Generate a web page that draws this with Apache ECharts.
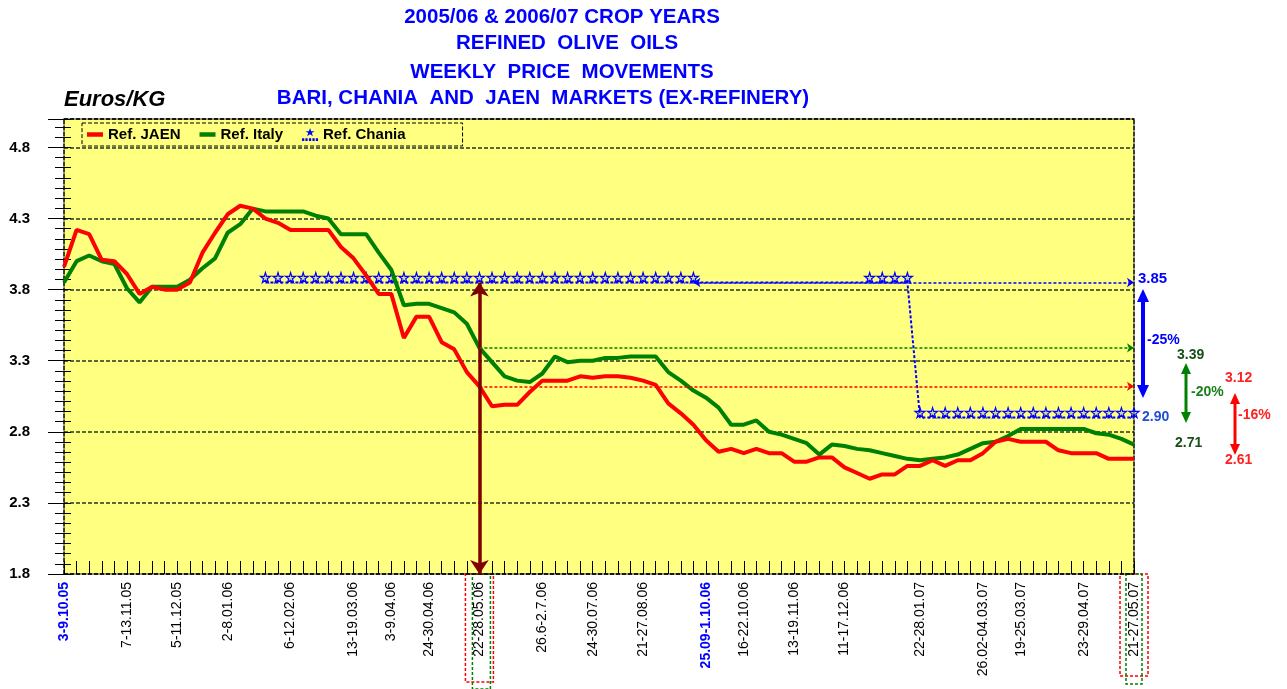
<!DOCTYPE html>
<html>
<head>
<meta charset="utf-8">
<script src="https://cdn.jsdelivr.net/npm/echarts@6/dist/echarts.min.js"></script>
<style>
html, body { margin: 0; padding: 0; background: #fff; }
#main { width: 1287px; height: 689px; }
</style>
</head>
<body>
<div id="main"></div>
<script>
// weekly categories, 3-9.10.05 ... 21-27.05.07
var weeks = [
	'3-9.10.05', '10-16.10.05', '17-23.10.05', '24-30.10.05', '31.10-6.11.05', '7-13.11.05',
	'14-20.11.05', '21-27.11.05', '28.11-4.12.05', '5-11.12.05', '12-18.12.05', '19-25.12.05',
	'26.12-1.01.06', '2-8.01.06', '9-15.01.06', '16-22.01.06', '23-29.01.06', '30.01-5.02.06',
	'6-12.02.06', '13-19.02.06', '20-26.02.06', '27.02-5.03.06', '6-12.03.06', '13-19.03.06',
	'20-26.03.06', '27.03-2.04.06', '3-9.04.06', '10-16.04.06', '17-23.04.06', '24-30.04.06',
	'1-7.05.06', '8-14.05.06', '15-21.05.06', '22-28.05.06', '29.05-4.06.06', '5-11.06.06',
	'12-18.06.06', '19-25.06.06', '26.6-2.7.06', '3-9.07.06', '10-16.07.06', '17-23.07.06',
	'24-30.07.06', '31.07-6.08.06', '7-13.08.06', '14-20.08.06', '21-27.08.06', '28.08-3.09.06',
	'4-10.09.06', '11-17.09.06', '18-24.09.06', '25.09-1.10.06', '2-8.10.06', '9-15.10.06',
	'16-22.10.06', '23-29.10.06', '30.10-5.11.06', '6-12.11.06', '13-19.11.06', '20-26.11.06',
	'27.11-3.12.06', '4-10.12.06', '11-17.12.06', '18-24.12.06', '25-31.12.06', '1-7.01.07',
	'8-14.01.07', '15-21.01.07', '22-28.01.07', '29.01-4.02.07', '5-11.02.07', '12-18.02.07',
	'19-25.02.07', '26.02-04.03.07', '5-11.03.07', '12-18.03.07', '19-25.03.07', '26.03-1.04.07',
	'2-8.04.07', '9-15.04.07', '16-22.04.07', '23-29.04.07', '30.04-6.05.07', '7-13.05.07',
	'14-20.05.07', '21-27.05.07'
];
// weeks that carry a label on the axis
var labelWeeks = [0, 5, 9, 13, 18, 23, 26, 29, 33, 38, 42, 46, 51, 54, 58, 62, 68, 73, 76, 81, 85];
// first week of each crop year (blue labels)
var cropYearStart = [0, 51];

var jaen = [
	3.96, 4.22, 4.19, 4.01, 4.00, 3.91, 3.77, 3.82, 3.80, 3.80,
	3.85, 4.06, 4.20, 4.33, 4.39, 4.37, 4.30, 4.27, 4.22, 4.22,
	4.22, 4.22, 4.10, 4.02, 3.90, 3.77, 3.77, 3.46, 3.61, 3.61,
	3.43, 3.38, 3.22, 3.12, 2.98, 2.99, 2.99, 3.08, 3.16, 3.16,
	3.16, 3.19, 3.18, 3.19, 3.19, 3.18, 3.16, 3.13, 3.00, 2.93,
	2.85, 2.74, 2.66, 2.68, 2.65, 2.68, 2.65, 2.65, 2.59, 2.59,
	2.62, 2.62, 2.55, 2.51, 2.47, 2.50, 2.50, 2.56, 2.56, 2.60,
	2.56, 2.60, 2.60, 2.65, 2.73, 2.75, 2.73, 2.73, 2.73, 2.67,
	2.65, 2.65, 2.65, 2.61, 2.61, 2.61
];
var italy = [
	3.85, 4.00, 4.04, 4.00, 3.98, 3.81, 3.71, 3.82, 3.82, 3.82,
	3.87, 3.95, 4.02, 4.20, 4.26, 4.37, 4.35, 4.35, 4.35, 4.35,
	4.32, 4.30, 4.19, 4.19, 4.19, 4.06, 3.94, 3.69, 3.70, 3.70,
	3.67, 3.64, 3.56, 3.39, 3.29, 3.19, 3.16, 3.15, 3.21, 3.33,
	3.29, 3.30, 3.30, 3.32, 3.32, 3.33, 3.33, 3.33, 3.22, 3.16,
	3.09, 3.04, 2.97, 2.85, 2.85, 2.88, 2.80, 2.78, 2.75, 2.72,
	2.64, 2.71, 2.70, 2.68, 2.67, 2.65, 2.63, 2.61, 2.60, 2.61,
	2.62, 2.64, 2.68, 2.72, 2.73, 2.77, 2.82, 2.82, 2.82, 2.82,
	2.82, 2.82, 2.79, 2.78, 2.75, 2.71
];
var chania = [
	null, null, null, null, null, null, null, null, null, null,
	null, null, null, null, null, null, 3.85, 3.85, 3.85, 3.85,
	3.85, 3.85, 3.85, 3.85, 3.85, 3.85, 3.85, 3.85, 3.85, 3.85,
	3.85, 3.85, 3.85, 3.85, 3.85, 3.85, 3.85, 3.85, 3.85, 3.85,
	3.85, 3.85, 3.85, 3.85, 3.85, 3.85, 3.85, 3.85, 3.85, 3.85,
	3.85, null, null, null, null, null, null, null, null, null,
	null, null, null, null, 3.85, 3.85, 3.85, 3.85, 2.90, 2.90,
	2.90, 2.90, 2.90, 2.90, 2.90, 2.90, 2.90, 2.90, 2.90, 2.90,
	2.90, 2.90, 2.90, 2.90, 2.90, 2.90
];

// comparison points
var refWeek = 33, lastWeek = 85, chaniaRefWeek = 50;
var refJaen = 3.12, refItaly = 3.39, refChania = 3.85;

var yMin = 1.8, yMax = 5.0, yStep = 0.5, yFine = 0.5 / 7;

var font = 'Arial, "Liberation Sans", sans-serif';
var dash = [4, 2];
var starPath = 'path://M50,0 L61,35 L98,35 L68,57 L79,91 L50,70 L21,91 L32,57 L2,35 L39,35 Z';
var barIcon = 'path://M0,0 L100,0 L100,28 L0,28 Z';
var starLineIcon = 'path://M50,0 L57,20 L78,20 L61,32 L68,52 L50,40 L32,52 L39,32 L22,20 L43,20 Z' +
	'M0,64 L14,64 L14,82 L0,82 Z M21,64 L35,64 L35,82 L21,82 Z M43,64 L57,64 L57,82 L43,82 Z' +
	'M65,64 L79,64 L79,82 L65,82 Z M86,64 L100,64 L100,82 L86,82 Z';

function titleLine(text, x, y) {
	return {
		text: text, left: x, top: y, textAlign: 'center', padding: 0,
		textStyle: { color: '#0000ff', fontSize: 20.5, fontWeight: 'bold', fontFamily: font }
	};
}

var myChart = echarts.init(document.getElementById('main'));

option = {
	backgroundColor: '#fff',
	animation: false,
	textStyle: { fontFamily: font },
	title: [
		titleLine('2005/06 & 2006/07 CROP YEARS', 562, 7),
		titleLine('REFINED  OLIVE  OILS', 567, 33),
		titleLine('WEEKLY  PRICE  MOVEMENTS', 562, 62),
		titleLine('BARI, CHANIA  AND  JAEN  MARKETS (EX-REFINERY)', 543, 88)
	],
	legend: {
		left: 82,
		top: 123,
		padding: [4, 57, 4, 5],
		itemGap: 19,
		itemWidth: 16,
		itemHeight: 14,
		backgroundColor: '#ffff80',
		borderColor: '#000',
		borderWidth: 1,
		borderType: 'dashed',
		textStyle: { fontSize: 15, fontWeight: 'bold', color: '#000', fontFamily: font },
		data: [
			{ name: 'Ref. JAEN', icon: barIcon },
			{ name: 'Ref. Italy', icon: barIcon },
			{ name: 'Ref. Chania', icon: starLineIcon, itemStyle: { color: '#0000ff', borderWidth: 0 } }
		]
	},
	grid: {
		left: 64,
		right: 153,
		top: 119,
		bottom: 115,
		show: true,
		backgroundColor: '#ffff80',
		borderWidth: 0
	},
	xAxis: [{
		type: 'category',
		data: weeks,
		boundaryGap: false,
		position: 'bottom',
		axisLine: { lineStyle: { color: '#000', type: dash, width: 1.5 } },
		axisTick: { inside: true, length: 13, interval: 0, lineStyle: { color: '#000' } },
		axisLabel: {
			interval: function (i) { return labelWeeks.indexOf(i) >= 0; },
			rotate: 90,
			margin: 8,
			fontSize: 14,
			color: '#000',
			fontFamily: font,
			formatter: function (v, i) {
				return cropYearStart.indexOf(i) >= 0 ? '{b|' + v + '}' : v;
			},
			rich: { b: { color: '#0000ff', fontWeight: 'bold', fontSize: 14, fontFamily: font } }
		},
		splitLine: { show: false }
	}, {
		type: 'category',
		data: weeks,
		boundaryGap: false,
		position: 'top',
		axisLine: { lineStyle: { color: '#000', type: dash, width: 1.5 } },
		axisTick: { show: false },
		axisLabel: { show: false }
	}],
	yAxis: [{
		type: 'value',
		min: yMin, max: yMax, interval: yStep,
		position: 'left',
		name: 'Euros/KG',
		nameLocation: 'end',
		nameGap: 19,
		nameTextStyle: {
			align: 'left', verticalAlign: 'middle', fontSize: 22, fontWeight: 'bold',
			fontStyle: 'italic', color: '#000', fontFamily: font
		},
		axisLine: { show: true, lineStyle: { color: '#000', type: dash, width: 1.5 } },
		axisTick: { show: true, length: 16, lineStyle: { color: '#000' } },
		axisLabel: {
			margin: 34, fontSize: 15, fontWeight: 'bold', color: '#000', fontFamily: font,
			formatter: function (v) { return v > 4.85 ? '' : v.toFixed(1); }
		},
		splitLine: { lineStyle: { color: '#1e3a1e', type: dash, width: 1.5 } }
	}, {
		// small ticks inside
		type: 'value',
		min: yMin, max: yMax, interval: yFine,
		position: 'left',
		axisLine: { show: false },
		axisTick: { show: true, inside: true, length: 7, lineStyle: { color: '#000' } },
		axisLabel: { show: false },
		splitLine: { show: false }
	}, {
		// small ticks outside
		type: 'value',
		min: yMin, max: yMax, interval: yFine,
		position: 'left',
		axisLine: { show: false },
		axisTick: { show: true, length: 9, lineStyle: { color: '#000' } },
		axisLabel: { show: false },
		splitLine: { show: false }
	}, {
		type: 'value',
		min: yMin, max: yMax, interval: yStep,
		position: 'right',
		axisLine: { show: true, lineStyle: { color: '#000', type: dash, width: 1.5 } },
		axisTick: { show: false },
		axisLabel: { show: false },
		splitLine: { show: false }
	}],
	series: [{
		name: 'Ref. JAEN',
		type: 'line',
		data: jaen,
		symbol: 'none',
		z: 4,
		lineStyle: { color: '#ff0000', width: 4 },
		itemStyle: { color: '#ff0000' },
		markLine: {
			silent: true,
			label: { show: false },
			symbol: ['none', 'arrow'],
			symbolSize: 7,
			lineStyle: { color: '#ff0000', type: [3, 2], width: 1.5 },
			data: [
				[{ coord: [refWeek, refJaen] }, { coord: [lastWeek, refJaen] }],
				[
					{ coord: [refWeek, yMin], symbol: 'arrow', symbolSize: 14, lineStyle: { color: '#800000', type: 'solid', width: 3.5 } },
					{ coord: [refWeek, refChania], symbol: 'arrow', symbolSize: 14, lineStyle: { color: '#800000', type: 'solid', width: 3.5 } }
				]
			]
		}
	}, {
		name: 'Ref. Italy',
		type: 'line',
		data: italy,
		symbol: 'none',
		z: 3,
		lineStyle: { color: '#008000', width: 4 },
		itemStyle: { color: '#008000' },
		markLine: {
			silent: true,
			label: { show: false },
			symbol: ['none', 'arrow'],
			symbolSize: 7,
			lineStyle: { color: '#008000', type: [3, 2], width: 1.5 },
			data: [[{ coord: [refWeek, refItaly] }, { coord: [lastWeek, refItaly] }]]
		}
	}, {
		name: 'Ref. Chania',
		type: 'line',
		data: chania,
		connectNulls: true,
		showAllSymbol: true,
		symbol: starPath,
		symbolSize: 10,
		symbolOffset: [0, -5],
		z: 2,
		lineStyle: { color: '#0000ff', width: 2, type: [3, 2] },
		itemStyle: { color: 'rgba(0,0,255,0.15)', borderColor: '#0000ff', borderWidth: 1.2 },
		markLine: {
			silent: true,
			label: { show: false },
			symbol: ['arrow', 'arrow'],
			symbolSize: 7,
			lineStyle: { color: '#0000ff', type: [3, 2], width: 1.5 },
			data: [[{ coord: [chaniaRefWeek, refChania] }, { coord: [lastWeek, refChania] }]]
		}
	}]
};

myChart.setOption(option);

// annotations on the right and boxes round the compared weeks
function vArrow(x, y1, y2, color, w, head, half) {
	return [{
		type: 'line', silent: true,
		shape: { x1: x, y1: y1 + head - 1, x2: x, y2: y2 - head + 1 },
		style: { stroke: color, lineWidth: w }
	}, {
		type: 'polygon', silent: true,
		shape: { points: [[x, y1], [x - half, y1 + head], [x + half, y1 + head]] },
		style: { fill: color }
	}, {
		type: 'polygon', silent: true,
		shape: { points: [[x, y2], [x - half, y2 - head], [x + half, y2 - head]] },
		style: { fill: color }
	}];
}
function note(text, x, y, color, size) {
	return {
		type: 'text', silent: true, x: x, y: y,
		style: { text: text, fill: color, font: 'bold ' + (size || 14) + 'px ' + font, verticalAlign: 'middle' }
	};
}
function box(cx, half, y, h, color) {
	return {
		type: 'rect', silent: true,
		shape: { x: cx - half, y: y, width: half * 2, height: h },
		style: { fill: null, stroke: color, lineWidth: 1.5, lineDash: [3, 2] }
	};
}

var axisY = myChart.convertToPixel({ yAxisIndex: 0 }, yMin);
var xRef = myChart.convertToPixel({ xAxisIndex: 0 }, refWeek);
var xLast = myChart.convertToPixel({ xAxisIndex: 0 }, lastWeek);

var elements = [
	box(xRef, 14, axisY, 108, '#ff0000'),
	box(xRef + 2, 9, axisY, 115, '#008000'),
	box(xLast, 14, axisY, 102, '#ff0000'),
	box(xLast, 8, axisY, 110, '#008000'),
	note(refChania.toFixed(2), 1138, 279, '#0000ff', 15),
	note('-25%', 1147, 340, '#0000ff'),
	note(chania[lastWeek].toFixed(2), 1142, 417, '#2050d0'),
	note(refItaly.toFixed(2), 1177, 355, '#1a4d1a'),
	note('-20%', 1191, 392, '#1a7f1a'),
	note(italy[lastWeek].toFixed(2), 1175, 443, '#1a4d1a'),
	note(refJaen.toFixed(2), 1225, 378, '#ff2020'),
	note('-16%', 1238, 415, '#ff2020'),
	note(jaen[lastWeek].toFixed(2), 1225, 460, '#ff2020')
]
	.concat(vArrow(1143, 289, 398, '#0000ff', 4, 13, 6))
	.concat(vArrow(1186, 363, 423, '#008000', 3, 11, 5))
	.concat(vArrow(1235, 393, 455, '#ff0000', 3, 11, 5));

myChart.setOption({ graphic: elements });
</script>
</body>
</html>
